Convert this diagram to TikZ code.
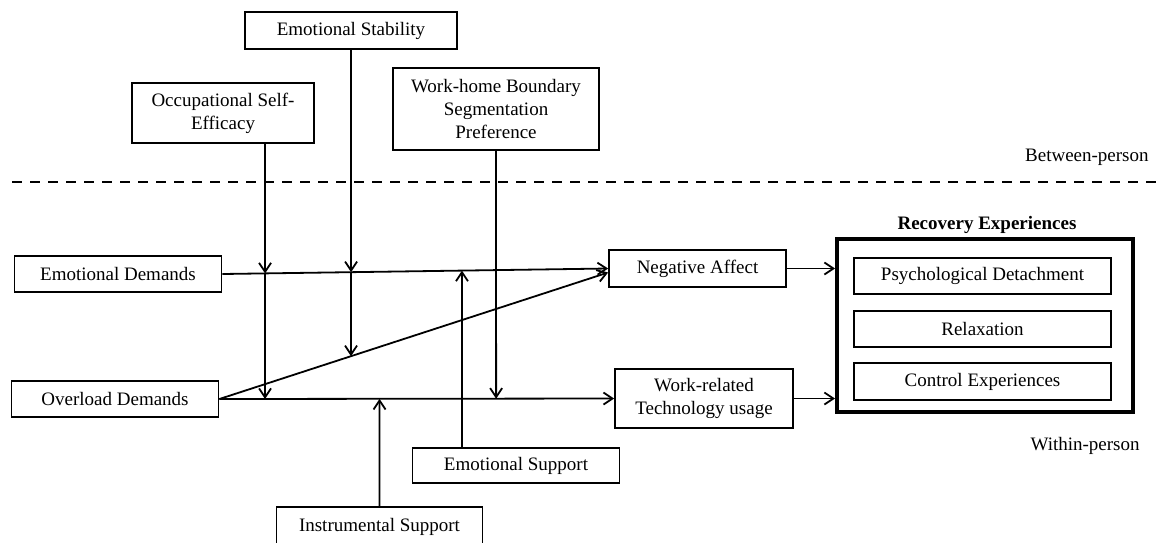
\documentclass[tikz,border=0pt]{standalone}
\usepackage{fontspec}
\setmainfont{Liberation Serif}
\usetikzlibrary{arrows.meta}
\begin{document}
\begin{tikzpicture}[x=0.5pt,y=-0.5pt,
  every node/.style={font=\fontsize{9.5}{11.5}\selectfont, inner sep=0pt},
  box/.style={draw, line width=0.9pt, align=center},
  conn/.style={line width=0.9pt, -{Straight Barb[length=4.5pt,width=6pt]}},
  sep/.style={line width=0.9pt, dash pattern=on 5pt off 4pt}]
\useasboundingbox (0,0) rectangle (1160,542);

% between-person constructs
\node[box, minimum width=106pt, minimum height=18.5pt] (es) at (351,30.5) {Emotional Stability};
\node[box, minimum width=91pt, minimum height=30pt] (ose) at (223,113) {Occupational Self-\\Efficacy};
\node[box, minimum width=103pt, minimum height=41pt] (whb) at (496,109) {Work-home Boundary\\Segmentation\\Preference};

% separator
\coordinate (dl) at (12,182);
\coordinate (dr) at (1160,182);
\draw[sep] (dl) -- (dr);
\node[anchor=east] (bp) at (1149,157) {Between-person};
\node[anchor=east] (wp) at (1140,446) {Within-person};

% within-person constructs
\node[box, minimum width=103.5pt, minimum height=18pt] (ed) at (118,274) {Emotional Demands};
\node[box, minimum width=103.5pt, minimum height=18pt] (od) at (115,399) {Overload Demands};
\node[box, minimum width=88.5pt, minimum height=18.5pt] (na) at (697.5,268.5) {Negative Affect};
\node[box, minimum width=89pt, minimum height=29.5pt] (wtu) at (704,398.5) {Work-related\\Technology usage};
\node[box, minimum width=103.5pt, minimum height=17.5pt] (esup) at (516,465.5) {Emotional Support};
\node[box, minimum width=103pt, minimum height=20pt] (isup) at (379.5,527) {Instrumental Support};

% recovery experiences
\node[draw, line width=2.2pt, minimum width=147.8pt, minimum height=86.3pt] (rec) at (985,325.5) {};
\node (rectitle) at (987,225) {\textbf{Recovery Experiences}};
\node[box, minimum width=128.5pt, minimum height=18pt] (pd) at (982.5,276) {Psychological Detachment};
\node[box, minimum width=128.5pt, minimum height=18pt] (rl) at (982.5,329) {Relaxation};
\node[box, minimum width=128.5pt, minimum height=18.5pt] (ce) at (982.5,381.5) {Control Experiences};

% helper coordinates
\coordinate (naB) at ([yshift=-2pt]na.west);
\coordinate (v1) at (265,0);
\coordinate (v4) at (462,0);
\coordinate (oseb) at (ose.south -| v1);
\coordinate (esupt) at (esup.north -| v4);
\coordinate (i1) at (intersection of ed.east--na.west and oseb--v1);
\coordinate (j1) at (intersection of od.east--wtu.west and oseb--v1);
\coordinate (i2) at (intersection of ed.east--na.west and es.south--es.north);
\coordinate (k2) at (intersection of od.east--naB and es.south--es.north);
\coordinate (j3) at (intersection of od.east--wtu.west and whb.south--whb.north);
\coordinate (i4) at (intersection of ed.east--na.west and esupt--v4);
\coordinate (j5) at (intersection of od.east--wtu.west and isup.north--isup.south);

% main paths
\draw[conn] (ed.east) -- (na.west);
\draw[conn] (od.east) -- (naB);
\draw[conn] (od.east) -- (wtu.west);
\draw[conn] (na.east) -- (na.east -| rec.west);
\draw[conn] (wtu.east) -- (wtu.east -| rec.west);

% moderators
\draw[conn] (oseb) -- (i1);
\draw[conn] (i1) -- (j1);
\draw[conn] (es.south) -- (i2);
\draw[conn] (i2) -- (k2);
\draw[conn] (whb.south) -- (j3);
\draw[conn] (esupt) -- (i4);
\draw[conn] (isup.north) -- (j5);
\end{tikzpicture}
\end{document}
